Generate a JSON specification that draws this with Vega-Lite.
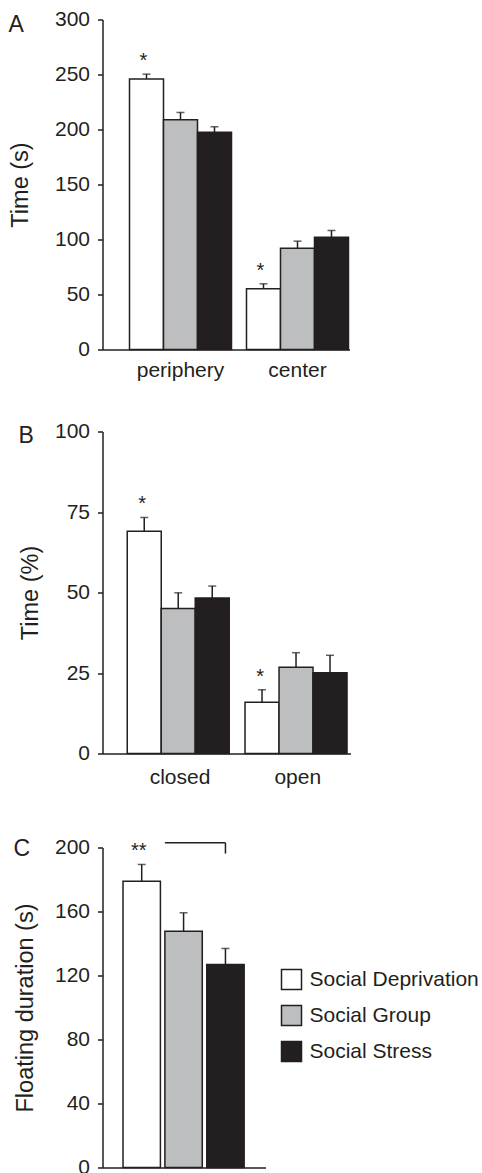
{
  "$schema": "https://vega.github.io/schema/vega-lite/v6.json",
  "background": "white",
  "padding": {"left": 7.5, "top": 8.5, "right": 0, "bottom": 0},
  "spacing": 40,
  "config": {
    "font": "Liberation Sans",
    "view": {"stroke": null},
    "axis": {
      "labelFontSize": 21, "titleFontSize": 23.5, "labelColor": "#231f20", "titleColor": "#231f20",
      "titleFontWeight": "normal", "domainColor": "#231f20", "tickColor": "#231f20",
      "domainWidth": 1.5, "tickWidth": 1.5, "grid": false
    },
    "axisX": {"ticks": false, "labelAngle": 0},
    "axisY": {"tickSize": 5, "labelPadding": 8},
    "title": {"fontSize": 23, "fontWeight": "normal", "anchor": "start", "frame": "bounds", "color": "#231f20", "offset": 0, "baseline": "alphabetic"}
  },
  "datasets": {
    "a": [
      {"cat": "periphery", "group": "Social Deprivation", "mean": 246, "upper": 250.3, "sig": "*", "sigY": 262},
      {"cat": "periphery", "group": "Social Group", "mean": 208.8, "upper": 215.5, "sig": "", "sigY": 0},
      {"cat": "periphery", "group": "Social Stress", "mean": 197.5, "upper": 202.5, "sig": "", "sigY": 0},
      {"cat": "center", "group": "Social Deprivation", "mean": 55.2, "upper": 59.7, "sig": "*", "sigY": 71.5},
      {"cat": "center", "group": "Social Group", "mean": 92.1, "upper": 98.5, "sig": "", "sigY": 0},
      {"cat": "center", "group": "Social Stress", "mean": 102.1, "upper": 108.2, "sig": "", "sigY": 0}
    ],
    "b": [
      {"cat": "closed", "group": "Social Deprivation", "mean": 69.0, "upper": 73.3, "sig": "*", "sigY": 77.4},
      {"cat": "closed", "group": "Social Group", "mean": 45.0, "upper": 49.9, "sig": "", "sigY": 0},
      {"cat": "closed", "group": "Social Stress", "mean": 48.3, "upper": 52.0, "sig": "", "sigY": 0},
      {"cat": "open", "group": "Social Deprivation", "mean": 15.9, "upper": 19.8, "sig": "*", "sigY": 23.8},
      {"cat": "open", "group": "Social Group", "mean": 26.8, "upper": 31.3, "sig": "", "sigY": 0},
      {"cat": "open", "group": "Social Stress", "mean": 25.1, "upper": 30.5, "sig": "", "sigY": 0}
    ],
    "c": [
      {"group": "Social Deprivation", "mean": 178.9, "upper": 189.4, "sig": "**", "sigY": 197.9},
      {"group": "Social Group", "mean": 147.7, "upper": 159.2, "sig": "", "sigY": 0},
      {"group": "Social Stress", "mean": 126.9, "upper": 136.9, "sig": "", "sigY": 0}
    ],
    "bracket": [
      {"from": "Social Group", "to": "Social Stress", "top": 202.9, "bottom": 196.2}
    ]
  },
  "vconcat": [
    {
      "title": {"text": "A", "dy": 32},
      "width": 247, "height": 330,
      "data": {"name": "a"},
      "encoding": {
        "x": {"field": "cat", "type": "nominal", "sort": ["periphery", "center"],
              "scale": {"paddingInner": 0.1282, "paddingOuter": 0.1197, "align": 0.964},
              "axis": {"title": null, "labelPadding": 10, "labelDx": -6}},
        "xOffset": {"field": "group", "type": "nominal", "sort": ["Social Deprivation", "Social Group", "Social Stress"],
                    "scale": {"paddingInner": 0, "paddingOuter": 0}}
      },
      "layer": [
        {"mark": {"type": "bar", "stroke": "#231f20", "strokeWidth": 1.5},
         "encoding": {
           "y": {"field": "mean", "type": "quantitative", "scale": {"domain": [0, 300], "nice": false},
                 "axis": {"values": [0, 50, 100, 150, 200, 250, 300], "title": "Time (s)", "titlePadding": 22}},
           "fill": {"field": "group", "type": "nominal",
                    "scale": {"domain": ["Social Deprivation", "Social Group", "Social Stress"], "range": ["#ffffff", "#bcbec0", "#231f20"]},
                    "legend": null}
         }},
        {"mark": {"type": "rule", "color": "#231f20", "strokeWidth": 1.5},
         "encoding": {"y": {"field": "mean", "type": "quantitative"}, "y2": {"field": "upper"}}},
        {"mark": {"type": "tick", "color": "#231f20", "thickness": 1.5, "size": 8},
         "encoding": {"y": {"field": "upper", "type": "quantitative"}}},
        {"transform": [{"filter": "datum.sig != ''"}],
         "mark": {"type": "text", "fontSize": 20, "baseline": "middle", "dx": -3, "color": "#231f20"},
         "encoding": {"y": {"field": "sigY", "type": "quantitative"}, "text": {"field": "sig"}}}
      ]
    },
    {
      "title": {"text": "B", "dy": 31},
      "width": 248, "height": 322,
      "data": {"name": "b"},
      "encoding": {
        "x": {"field": "cat", "type": "nominal", "sort": ["closed", "open"],
              "scale": {"paddingInner": 0.1046, "paddingOuter": 0.105, "align": 1},
              "axis": {"title": null, "labelPadding": 12.5, "labelDx": -5}},
        "xOffset": {"field": "group", "type": "nominal", "sort": ["Social Deprivation", "Social Group", "Social Stress"],
                    "scale": {"paddingInner": 0, "paddingOuter": 0}}
      },
      "layer": [
        {"mark": {"type": "bar", "stroke": "#231f20", "strokeWidth": 1.5},
         "encoding": {
           "y": {"field": "mean", "type": "quantitative", "scale": {"domain": [0, 100], "nice": false},
                 "axis": {"values": [0, 25, 50, 75, 100], "title": "Time (%)", "titlePadding": 12}},
           "fill": {"field": "group", "type": "nominal",
                    "scale": {"domain": ["Social Deprivation", "Social Group", "Social Stress"], "range": ["#ffffff", "#bcbec0", "#231f20"]},
                    "legend": null}
         }},
        {"mark": {"type": "rule", "color": "#231f20", "strokeWidth": 1.5},
         "encoding": {"y": {"field": "mean", "type": "quantitative"}, "y2": {"field": "upper"}}},
        {"mark": {"type": "tick", "color": "#231f20", "thickness": 1.5, "size": 8},
         "encoding": {"y": {"field": "upper", "type": "quantitative"}}},
        {"transform": [{"filter": "datum.sig != ''"}],
         "mark": {"type": "text", "fontSize": 20, "baseline": "middle", "dx": -2, "color": "#231f20"},
         "encoding": {"y": {"field": "sigY", "type": "quantitative"}, "text": {"field": "sig"}}}
      ]
    },
    {
      "title": {"text": "C", "dy": 37},
      "width": 163, "height": 340,
      "layer": [
        {"data": {"name": "c"},
         "mark": {"type": "bar", "stroke": "#231f20", "strokeWidth": 1.5},
         "encoding": {
           "x": {"field": "group", "type": "nominal", "sort": ["Social Deprivation", "Social Group", "Social Stress"],
                 "scale": {"domain": ["Social Deprivation", "Social Group", "Social Stress"], "paddingInner": 0.107, "paddingOuter": 0.5, "align": 0.49},
                 "axis": {"title": null, "labels": false, "ticks": false}},
           "y": {"field": "mean", "type": "quantitative", "scale": {"domain": [0, 200], "nice": false, "range": [340, 20]},
                 "axis": {"values": [0, 40, 80, 120, 160, 200], "title": "Floating duration (s)", "titlePadding": 17}},
           "fill": {"field": "group", "type": "nominal",
                    "scale": {"domain": ["Social Deprivation", "Social Group", "Social Stress"], "range": ["#ffffff", "#bcbec0", "#231f20"]},
                    "legend": {"orient": "none", "legendX": 178, "legendY": 141, "title": null, "symbolType": "square", "symbolSize": 400,
                               "symbolStrokeColor": "#231f20", "symbolStrokeWidth": 1.5, "labelFontSize": 21, "labelOffset": 7,
                               "labelLimit": 0, "rowPadding": 10, "labelColor": "#231f20", "labelFont": "Liberation Sans"}}
         }},
        {"data": {"name": "c"},
         "mark": {"type": "rule", "color": "#231f20", "strokeWidth": 1.5},
         "encoding": {"x": {"field": "group", "type": "nominal"}, "y": {"field": "mean", "type": "quantitative"}, "y2": {"field": "upper"}}},
        {"data": {"name": "c"},
         "mark": {"type": "tick", "color": "#231f20", "thickness": 1.5, "size": 8},
         "encoding": {"x": {"field": "group", "type": "nominal"}, "y": {"field": "upper", "type": "quantitative"}}},
        {"data": {"name": "c"},
         "transform": [{"filter": "datum.sig != ''"}],
         "mark": {"type": "text", "fontSize": 20, "baseline": "middle", "dx": -3, "color": "#231f20"},
         "encoding": {"x": {"field": "group", "type": "nominal"}, "y": {"field": "sigY", "type": "quantitative"}, "text": {"field": "sig"}}},
        {"data": {"name": "bracket"},
         "mark": {"type": "rule", "color": "#231f20", "strokeWidth": 1.5},
         "encoding": {"x": {"field": "from", "type": "nominal", "bandPosition": 0}, "x2": {"field": "to", "bandPosition": 0.5}, "y": {"field": "top", "type": "quantitative"}}},
        {"data": {"name": "bracket"},
         "mark": {"type": "rule", "color": "#231f20", "strokeWidth": 1.5},
         "encoding": {"x": {"field": "to", "type": "nominal"}, "y": {"field": "top", "type": "quantitative"}, "y2": {"field": "bottom"}}}
      ]
    }
  ],
  "resolve": {"legend": {"fill": "independent"}}
}
